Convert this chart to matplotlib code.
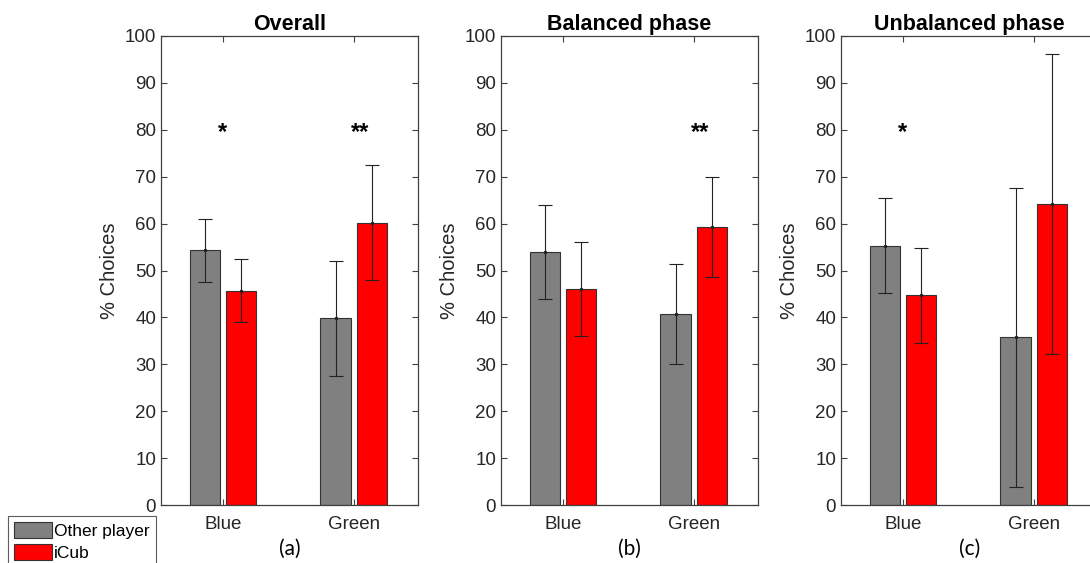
import numpy as np
import matplotlib.pyplot as plt
from matplotlib.patches import Patch

plt.rcParams['font.family'] = ['Liberation Sans', 'DejaVu Sans']

categories = ['Blue', 'Green']
titles = ['Overall', 'Balanced phase', 'Unbalanced phase']
panel_tags = ['(a)', '(b)', '(c)']

# means per panel: [Blue, Green]
other_mean = [[54.3, 39.8], [54.0, 40.7], [55.3, 35.8]]
icub_mean = [[45.7, 60.2], [46.0, 59.3], [44.7, 64.2]]
# error bar low / high ends
other_lo = [[47.5, 27.5], [44.0, 30.0], [45.2, 3.8]]
other_hi = [[61.0, 52.1], [64.0, 51.3], [65.5, 67.6]]
icub_lo = [[39.0, 48.0], [36.0, 48.7], [34.5, 32.3]]
icub_hi = [[52.5, 72.5], [56.0, 70.0], [54.8, 96.2]]

# significance marks at 80%
stars = [['*', '**'], ['', '**'], ['*', '']]
star_y = 80

fig = plt.figure(figsize=(10.9, 5.63), dpi=100)
lefts = [161, 501, 841]
x = np.arange(1, len(categories) + 1)
w = 0.23
off = 0.14
axc = '#404040'

for i in range(3):
    ax = fig.add_axes([lefts[i] / 1090, 58 / 563, 257 / 1090, 469 / 563])
    om, im = np.array(other_mean[i]), np.array(icub_mean[i])
    oerr = [om - np.array(other_lo[i]), np.array(other_hi[i]) - om]
    ierr = [im - np.array(icub_lo[i]), np.array(icub_hi[i]) - im]
    ax.bar(x - off, om, w, color='#808080', edgecolor='#333333', linewidth=0.8, zorder=2)
    ax.bar(x + off, im, w, color='#ff0000', edgecolor='#333333', linewidth=0.8, zorder=2)
    ax.errorbar(x - off, om, yerr=oerr, fmt='.', color='#222222', ms=3,
                elinewidth=0.8, capsize=5, capthick=0.8, zorder=3)
    ax.errorbar(x + off, im, yerr=ierr, fmt='.', color='#222222', ms=3,
                elinewidth=0.8, capsize=5, capthick=0.8, zorder=3)
    for j, s in enumerate(stars[i]):
        if s:
            ax.text(x[j] + (0.05 if len(s) > 1 else 0), star_y - 0.6, s,
                    ha='center', va='center', fontsize=17, fontweight='bold',
                    color='black')
    ax.set_xlim(0.527, 2.49)
    ax.set_ylim(0, 100)
    ax.set_yticks(np.arange(0, 101, 10))
    ax.set_xticks(x)
    ax.set_xticklabels(categories)
    ax.tick_params(direction='in', top=True, right=True, length=4, width=0.8,
                   color=axc, labelsize=13.5, labelcolor='#262626')
    ax.tick_params(axis='x', pad=8)
    for sp in ax.spines.values():
        sp.set_color(axc)
        sp.set_linewidth(0.9)
    ax.set_ylabel('% Choices', fontsize=14.5, color='#262626', labelpad=4)
    ax.set_title(titles[i], fontsize=15.5, fontweight='bold', pad=4)
    ax.text(0.5, -0.094, panel_tags[i], transform=ax.transAxes, ha='center',
            va='center', fontsize=15, family=['Lato', 'DejaVu Sans'])

handles = [Patch(facecolor='#808080', edgecolor='#333333', linewidth=0.8),
           Patch(facecolor='#ff0000', edgecolor='#333333', linewidth=0.8)]
leg = fig.legend(handles, ['Other player', 'iCub'], loc='lower left',
                 bbox_to_anchor=(8 / 1090, -4 / 563), fontsize=12.5,
                 frameon=True, fancybox=False, edgecolor='#333333',
                 handlelength=2.2, handleheight=1.0, handletextpad=0.1,
                 labelspacing=0.3, borderpad=0.35, borderaxespad=0)
leg.get_frame().set_linewidth(0.8)

fig.savefig('out.png', dpi=100)
